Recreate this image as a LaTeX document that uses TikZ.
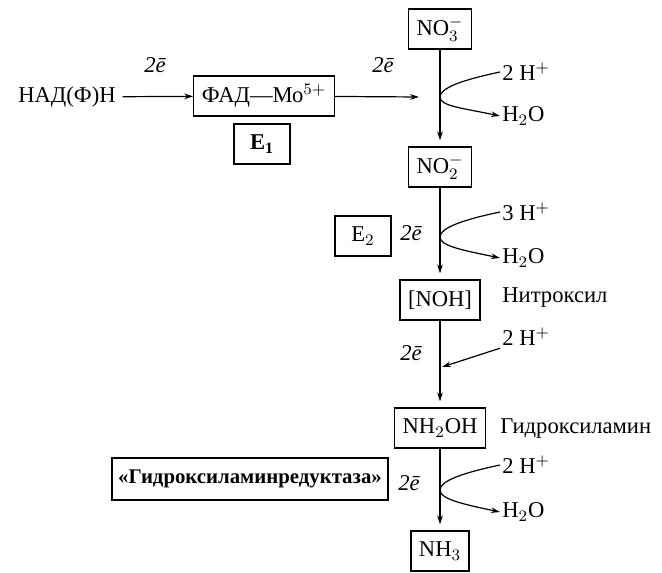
\documentclass[tikz,border=0pt]{standalone}
\usepackage{fontspec}
\setmainfont{Liberation Serif}
\usetikzlibrary{arrows.meta}
\tikzset{
  sbox/.style={draw,line width=0.6pt,inner xsep=4pt,inner ysep=2pt,
               minimum width=28pt,minimum height=20pt},
  ebox/.style={sbox,line width=1.3pt},
  lbl/.style={inner sep=1pt,anchor=west},
  flow/.style={-{Stealth[length=4.5pt,width=2.8pt]},line width=0.6pt}
}
\newcommand{\twoe}{{\itshape 2\={e}}}

\begin{document}
\begin{tikzpicture}[x=0.5pt,y=-0.5pt,font=\fontsize{11.3}{13}\selectfont]
  \useasboundingbox (0,0) rectangle (662,572);
  % left branch
  \node (nadph) at (67,97) {НАД(Ф)Н};
  \node[sbox,minimum width=70pt] (fad) at (264,96) {ФАД\textemdash Мо$^{5+}$};
  \node[ebox] (e1) at (262,144) {\textbf{E}$_{\mathbf{1}}$};
  \node (el1) at (155,65) {\twoe};
  \node (el2) at (383,65) {\twoe};
  \coordinate (j1) at (419,97);
  \draw[flow] (nadph) -- (fad);
  \draw[flow] (fad) -- (j1);
  % main chain
  \node[sbox] (no3) at (440,29) {NO$_3^-$};
  \node[sbox] (no2) at (440,167) {NO$_2^-$};
  \node[sbox] (noh) at (440,300) {[NOH]};
  \node[sbox] (nh2oh) at (440,428) {NH$_2$OH};
  \node[sbox] (nh3) at (440,551) {NH$_3$};
  \draw[flow,shorten >=3pt] (no3) -- (no2);
  \draw[flow,shorten >=3pt] (no2) -- (noh);
  \draw[flow,shorten >=3pt] (noh) -- (nh2oh);
  \draw[flow,shorten >=3pt] (nh2oh) -- (nh3);
  \node[lbl] at (500,298) {Нитроксил};
  \node[lbl] at (498,428) {Гидроксиламин};
  % enzymes
  \node[ebox] (e2) at (363,236) {E$_2$};
  \node[ebox,inner xsep=3pt,minimum height=21pt,font=\fontsize{10.4}{12}\selectfont]
    (hred) at (250,479) {\textbf{«Гидроксиламинредуктаза»}};
  \node (el3) at (411,233) {\twoe};
  \node (el4) at (411,353) {\twoe};
  \node (el5) at (409,483) {\twoe};
  % protons in, water out
  \node[lbl] (hp1) at (500,72) {2 H$^+$};
  \node[lbl] (w1) at (500,116) {H$_2$O};
  \coordinate (t1) at (440,97);
  \draw[flow] (hp1.west) .. controls +(-38,8) and +(0,-9) .. (t1)
                         .. controls +(0,9) and +(-38,-8) .. (w1.west);
  \node[lbl] (hp2) at (500,212) {3 H$^+$};
  \node[lbl] (w2) at (500,258) {H$_2$O};
  \coordinate (t2) at (440,237);
  \draw[flow] (hp2.west) .. controls +(-38,8) and +(0,-9) .. (t2)
                         .. controls +(0,9) and +(-38,-8) .. (w2.west);
  \node[lbl] (hp3) at (500,337) {2 H$^+$};
  \coordinate (j3) at (442,367);
  \draw[flow] (hp3.south west) -- (j3);
  \node[lbl] (hp4) at (500,465) {2 H$^+$};
  \node[lbl] (w4) at (500,512) {H$_2$O};
  \coordinate (t4) at (440,490);
  \draw[flow] (hp4.west) .. controls +(-38,8) and +(0,-9) .. (t4)
                         .. controls +(0,9) and +(-38,-8) .. (w4.west);
\end{tikzpicture}
\end{document}
